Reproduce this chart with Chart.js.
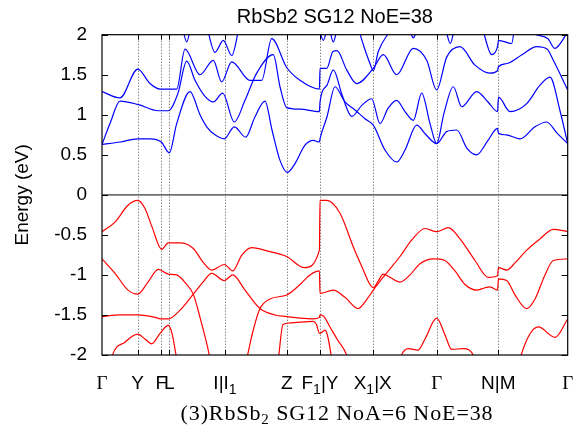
<!DOCTYPE html>
<html><head><meta charset="utf-8">
<script src="https://cdn.jsdelivr.net/npm/chart.js@4.4.1/dist/chart.umd.min.js"></script>
<style>html,body{margin:0;padding:0;background:#fff}canvas{display:block}</style>
</head><body>
<canvas id="c" width="576" height="441"></canvas>
<script>
// ---- text ----
const titleText = 'RbSb2 SG12 NoE=38';
const yTitleText = 'Energy (eV)';
const captionParts = [['(3)RbSb', false], ['2', true], [' SG12 NoA=6 NoE=38', false]];

// ---- axes ----
const kTicks  = [0, 35.7, 59.3, 67.3, 123, 184.7, 218, 270.7, 334.7, 396.3, 465.7];
const kLabels = ['Γ', 'Y', 'F', 'L', 'I|I_1', 'Z', 'F_1|Y', 'X_1|X', 'Γ', 'N|M', 'Γ'];
const yTicks  = [-2, -1.5, -1, -0.5, 0, 0.5, 1, 1.5, 2];
const yTickLabels = ['-2', '-1.5', '-1', '-0.5', '0', '0.5', '1', '1.5', '2'];

// ---- conduction bands [k, E] ----
const cbA = [[0,0.63],[18,0.66],[35.7,0.70],[48,0.70],[59.3,0.66],[67.3,0.525],[74.7,0.89],[88,1.29],[98,1.0],[104.7,0.85],[113,0.75],[122.3,0.70],[132.3,0.85],[143.7,0.72],[153,0.975],[163,1.17],[170,0.81],[178,0.43],[185.3,0.28],[193,0.39],[203,0.62],[211.3,0.68],[217.4,0.66],
  [218,0.70],[225,0.975],[233,1.35],[243,1.16],[253,1.06],[263,0.95],[271.3,0.87],[283,0.56],[294.7,0.41],[303,0.56],[314.7,0.87],[324,0.75],[334.7,0.64],[344.7,0.79],[354.7,0.81],[365,0.58],[374.7,0.50],[386,0.68],[395.5,0.83],[396.5,0.77],[404,0.75],[418,0.70],[433,0.85],[444.7,0.91],[455,0.77],[465.7,0.64]];
const cbB = [[0,0.63],[8,0.89],[18,1.17],[35.7,1.13],[56.3,1.05],[66.3,1.05],[76,1.27],[84.7,1.67],[93,1.43],[103,1.23],[111.3,1.16],[120.7,1.27],[132.3,0.91],[143,1.18],[154.7,1.52],[171.3,1.75],[178,1.35],[184.7,1.09],[198,1.07],[217.4,1.04],
  [218,1.16],[225,1.37],[231.3,1.56],[240,1.25],[249.7,0.98],[260,1.12],[269.7,1.20],[278,0.89],[286,1.08],[294.7,1.18],[303,1.04],[311.3,0.93],[319.7,1.27],[328,0.89],[334.7,0.64],[342,1.02],[351.3,1.35],[359.7,1.10],[374.7,1.29],[386,1.16],[395.5,1.04],[396.5,1.22],[408,1.04],[424.7,1.14],[438,1.37],[448,1.47],[458,1.05],[465.7,0.64]];
const cbC = [[0,1.29],[18,1.21],[35.7,1.57],[48,1.39],[58,1.32],[74.7,1.32],[83,1.82],[98,1.50],[111.3,1.68],[119.7,1.41],[129.7,1.66],[148,1.43],[159.7,1.43],[169.7,1.95],[184.7,1.59],[198,1.43],[217.4,1.32],
  [218,1.58],[224.7,1.58],[231,1.79],[235,1.80],[244.7,1.56],[254.7,1.39],[271.3,1.58],[281.3,1.75],[294.7,1.50],[311.3,1.83],[324.7,1.68],[334.7,1.31],[344.7,1.72],[358,1.85],[373,1.62],[388,1.52],[395.5,1.55],[396.5,1.60],[405,1.64],[420,1.75],[434.7,1.85],[445,1.82],[451.3,1.68],[465.7,1.31]];
const cbD = [[79,2.2],[84.7,1.91],[90,2.2]];
const cbE = [[104,2.15],[113,1.78],[121.3,1.93],[129.7,1.74],[138,2.15]];
const cbF = [[217.5,2.05],[221.3,1.93],[224.7,2.05]];
const cbF2 = [[228,2.05],[231.3,1.91],[234.7,2.05]];
const cbK = [[257,2.05],[262,1.85],[268,1.64],[271.3,1.55],[276.3,1.79],[288,2.05]];
const cbG = [[308,2.05],[311.3,1.96],[314.7,2.05]];
const cbJ = [[344,2.05],[348.3,1.89],[352,2.05]];
const cbH = [[381,2.05],[389.7,1.75],[395.5,1.85],[396.5,1.93],[409.7,1.89],[413,2.15]];
const cbI = [[434,2.0],[446,1.95],[452.7,1.83],[465.7,2.03]];

// ---- valence bands [k, E] ----
const vbA = [[0,-0.46],[13,-0.34],[26,-0.13],[35.7,-0.07],[43,-0.17],[50,-0.40],[59.7,-0.68],[66.3,-0.60],[78,-0.60],[91.3,-0.67],[101,-0.84],[109.7,-0.94],[122.3,-0.87],[130.7,-0.95],[140,-0.75],[149.7,-0.66],[168,-0.71],[184.7,-0.77],[202.3,-0.91],[217.4,-0.69],
  [218,-0.07],[224.7,-0.07],[238,-0.23],[251.3,-0.65],[260,-0.90],[268,-1.12],[271.3,-1.16],[276,-1.08],[281.3,-0.99],[288,-1.03],[298,-1.09],[308,-1.0],[318,-0.86],[331.3,-0.80],[334.7,-0.80],[343,-0.82],[353,-0.95],[363,-1.12],[374.7,-1.19],[383,-1.16],[388,-1.15],[395.5,-1.19],[396.5,-1.05],[404.7,-1.07],[413,-1.25],[424.7,-1.42],[433,-1.3],[443,-1.0],[451.3,-0.82],[465.7,-0.80]];
const vbB = [[0,-0.80],[13,-0.98],[26,-1.19],[35.7,-1.24],[46,-1.09],[56.3,-0.93],[66.3,-0.99],[74.7,-1.0],[84,-1.11],[91.3,-1.24],[98,-1.53],[104,-1.82],[108,-2.05],[112,-2.4],[138,-2.4],[144.7,-2.05],[151,-1.7],[158,-1.42],[168,-1.30],[184.7,-1.25],[198,-1.12],[208,-1.0],[217.4,-0.95],
  [218,-1.23],[231.3,-1.19],[243,-1.28],[256.3,-1.42],[264,-1.32],[271.3,-1.19],[283,-1.0],[298,-0.77],[310,-0.56],[323,-0.42],[334.7,-0.46],[346.3,-0.41],[358,-0.55],[373,-0.82],[386.3,-1.03],[395.5,-1.01],[396.5,-0.91],[404.7,-0.94],[413,-0.85],[424.7,-0.69],[438,-0.55],[451.3,-0.43],[465.7,-0.46]];
const vbC = [[0,-1.52],[18,-1.50],[35.7,-1.50],[53,-1.53],[59.7,-1.55],[66.3,-1.55],[78,-1.44],[91.3,-1.24],[101,-1.09],[109.7,-0.98],[122.3,-1.07],[130.7,-1.00],[143,-1.19],[158,-1.42],[173,-1.50],[184.7,-1.52],[198,-1.54],[211.3,-1.55],[217.4,-1.53],
  [218,-1.50],[222,-1.52],[228,-1.65],[235,-1.80],[246,-2.05],[250,-2.3]];
const vbD = [[6,-2.3],[10,-2.02],[23,-1.84],[35.7,-1.74],[43,-1.80],[49.7,-1.86],[58,-1.73],[66.3,-1.63],[70,-1.73],[74.7,-2.05],[78,-2.3]];
const vbE = [[173,-2.3],[176.3,-2.05],[181,-1.62],[188,-1.60],[211.3,-1.58],[214.5,-1.62],[217.4,-1.73],
  [218,-1.73],[223,-1.69],[229.7,-2.05],[232,-2.3]];
const vbF = [[294,-2.3],[298,-2.05],[306.3,-1.92],[316,-1.94],[323,-1.8],[334.7,-1.54],[343,-1.75],[349.7,-1.93],[361.3,-1.92],[373,-2.05],[377,-2.3]];
const vbG = [[414,-2.3],[418,-2.05],[436.3,-1.65],[453,-1.78],[465.7,-1.55]];

const BLUE = '#0000ff', RED = '#ff0000';
const conduction = [cbA, cbB, cbC, cbD, cbE, cbF, cbF2, cbK, cbG, cbJ, cbH, cbI];
const valence = [vbA, vbB, vbC, vbD, vbE, vbF, vbG];

const mk = (pts, color) => ({
  data: pts.map(p => ({x: p[0], y: p[1]})),
  borderColor: color, borderWidth: 1.2, pointRadius: 0, fill: false,
  cubicInterpolationMode: 'monotone'
});

const SANS = '"Liberation Sans", Arial, sans-serif';
const SERIF = '"Liberation Serif", "Times New Roman", serif';

function drawRuns(ctx, runs, cx, baseline, size, subSize, subDrop, spacing) {
  ctx.letterSpacing = (spacing || 0) + 'px';
  let total = 0;
  const items = runs.map(r => {
    const f = (r.sub ? subSize : size) + 'px ' + (r.serif ? SERIF : SANS);
    ctx.font = f; const w = ctx.measureText(r.t).width; total += w;
    return {t: r.t, f, w, sub: r.sub};
  });
  let x = cx - total / 2;
  ctx.textAlign = 'left'; ctx.textBaseline = 'alphabetic';
  items.forEach(it => { ctx.font = it.f; ctx.fillText(it.t, x, baseline + (it.sub ? subDrop : 0)); x += it.w; });
  ctx.letterSpacing = '0px';
}
function parseLabel(s) {
  const runs = []; let i = 0;
  while (i < s.length) {
    if (s[i] === '_') { runs.push({t: s[i+1], sub: true}); i += 2; continue; }
    let j = i; while (j < s.length && s[j] !== '_') j++;
    s.slice(i, j).split(/(Γ)/).filter(Boolean).forEach(p => runs.push({t: p, serif: p === 'Γ'}));
    i = j;
  }
  return runs;
}

const deco = {
  id: 'deco',
  beforeDatasetsDraw(chart) {
    const {ctx, chartArea: ca, scales: {x, y}} = chart;
    ctx.save();
    const y0 = y.getPixelForValue(0);
    ctx.strokeStyle = '#707070'; ctx.lineWidth = 1.6;
    ctx.beginPath(); ctx.moveTo(ca.left, y0); ctx.lineTo(ca.right, y0); ctx.stroke();
    ctx.strokeStyle = '#555'; ctx.lineWidth = 1; ctx.setLineDash([1, 2]);
    kTicks.slice(1, -1).forEach(k => {
      const px = Math.round(x.getPixelForValue(k)) + 0.5;
      ctx.beginPath(); ctx.moveTo(px, ca.top); ctx.lineTo(px, ca.bottom); ctx.stroke();
    });
    ctx.restore();
  },
  afterDatasetsDraw(chart) {
    const {ctx, chartArea: ca, scales: {x, y}} = chart;
    ctx.save();
    ctx.strokeStyle = '#000'; ctx.lineWidth = 1.2; ctx.setLineDash([]);
    ctx.strokeRect(ca.left, ca.top, ca.right - ca.left, ca.bottom - ca.top);
    ctx.lineWidth = 1;
    yTicks.forEach(v => {
      const py = Math.round(y.getPixelForValue(v)) + 0.5;
      ctx.beginPath(); ctx.moveTo(ca.left, py); ctx.lineTo(ca.left + 6, py);
      ctx.moveTo(ca.right, py); ctx.lineTo(ca.right - 6, py); ctx.stroke();
    });
    kTicks.slice(1, -1).forEach(k => {
      const px = Math.round(x.getPixelForValue(k)) + 0.5;
      ctx.beginPath(); ctx.moveTo(px, ca.top); ctx.lineTo(px, ca.top + 5);
      ctx.moveTo(px, ca.bottom); ctx.lineTo(px, ca.bottom - 5); ctx.stroke();
    });
    ctx.fillStyle = '#000';
    kTicks.forEach((k, i) => {
      drawRuns(ctx, parseLabel(kLabels[i]), x.getPixelForValue(k), 388.5, 19, 14, 5, 0);
    });
    ctx.font = '20px ' + SANS; ctx.textAlign = 'center'; ctx.textBaseline = 'alphabetic';
    ctx.fillText(titleText, (ca.left + ca.right) / 2, 23);
    ctx.save(); ctx.translate(28, (ca.top + ca.bottom) / 2); ctx.rotate(-Math.PI / 2);
    ctx.font = '19px ' + SANS; ctx.textAlign = 'center'; ctx.fillText(yTitleText, 0, 0); ctx.restore();
    drawRuns(ctx, captionParts.map(p => ({t: p[0], sub: p[1], serif: true})), 337, 420, 22, 15, 4, 0.9);
    ctx.restore();
  }
};

new Chart(document.getElementById('c'), {
  type: 'line',
  data: { datasets: [...conduction.map(b => mk(b, BLUE)), ...valence.map(b => mk(b, RED))] },
  options: {
    responsive: false, animation: false, devicePixelRatio: 1,
    layout: { padding: { left: 0, right: 8.3, top: 34.7, bottom: 0 } },
    plugins: { legend: { display: false }, tooltip: { enabled: false } },
    scales: {
      x: { type: 'linear', min: kTicks[0], max: kTicks[kTicks.length - 1],
           ticks: { display: false }, grid: { display: false, drawTicks: false }, border: { display: false },
           afterFit: s => { s.height = 86; } },
      y: { type: 'linear', min: -2, max: 2,
           afterBuildTicks: s => { s.ticks = yTicks.map(v => ({value: v})); },
           ticks: { callback: v => yTickLabels[yTicks.indexOf(v)], color: '#000', padding: 15,
                    font: { family: SANS, size: 19 } },
           grid: { display: false, drawTicks: false }, border: { display: false },
           afterFit: s => { s.width = 102; } }
    }
  },
  plugins: [deco]
});
</script>
</body></html>
